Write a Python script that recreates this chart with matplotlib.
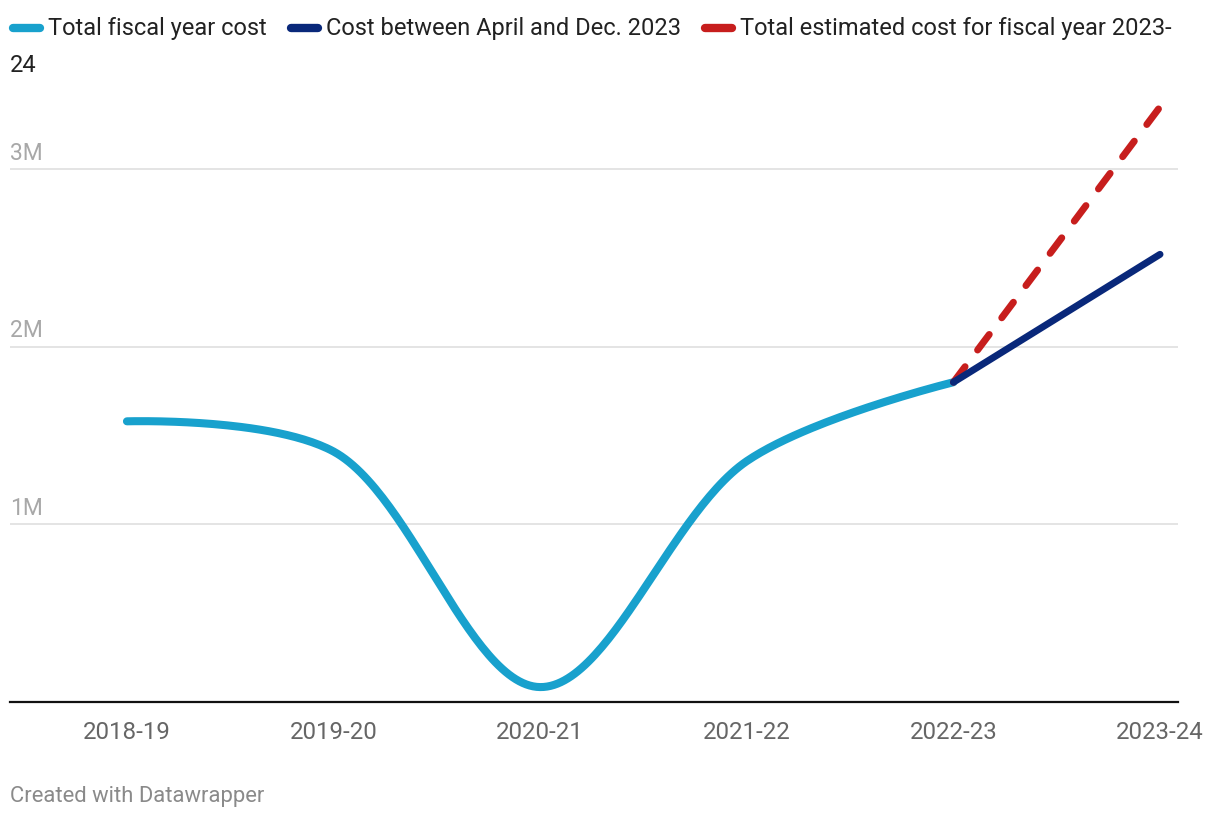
import matplotlib.pyplot as plt
import numpy as np
from matplotlib.lines import Line2D
from matplotlib.transforms import offset_copy

plt.rcParams['font.family'] = ['Roboto', 'DejaVu Sans']

# values in millions
years = ['2018-19', '2019-20', '2020-21', '2021-22', '2022-23', '2023-24']
total_cost = [1.58, 1.41, 0.084, 1.356, 1.80]      # 2018-19 .. 2022-23
partial_cost = [1.80, 2.52]                        # 2022-23 .. 2023-24, April-Dec.
estimated_cost = [1.80, 3.35]                      # 2022-23 .. 2023-24, estimate
y_ticks = [1, 2, 3]
y_tick_labels = ['1M', '2M', '3M']
legend_labels = ['Total fiscal year cost',
                 'Cost between April and Dec. 2023',
                 'Total estimated cost for fiscal year 2023-24']

CYAN = '#18a1cd'
NAVY = '#09287a'
RED = '#c71e1d'

W, H = 1220, 820


def catmull_rom(px, py, alpha=0.5, steps=60):
    # same as d3.curveCatmullRom, worked out in pixel space
    pts = np.column_stack([px, py])
    n = len(pts)
    out = [pts[0]]
    for i in range(n - 1):
        p0 = pts[i - 1] if i > 0 else pts[i]
        p1 = pts[i]
        p2 = pts[i + 1]
        p3 = pts[i + 2] if i + 2 < n else pts[i + 1]
        l01 = np.hypot(*(p1 - p0)) ** alpha
        l12 = np.hypot(*(p2 - p1)) ** alpha
        l23 = np.hypot(*(p3 - p2)) ** alpha
        c1 = p1.copy()
        if l01 > 1e-9:
            a = 2 * l01 ** 2 + 3 * l01 * l12 + l12 ** 2
            m = 3 * l01 * (l01 + l12)
            c1 = (p1 * a - p0 * l12 ** 2 + p2 * l01 ** 2) / m
        c2 = p2.copy()
        if l23 > 1e-9:
            b = 2 * l23 ** 2 + 3 * l23 * l12 + l12 ** 2
            m = 3 * l23 * (l23 + l12)
            c2 = (p2 * b + p1 * l23 ** 2 - p3 * l12 ** 2) / m
        t = np.linspace(0, 1, steps)[1:, None]
        seg = (1 - t) ** 3 * p1 + 3 * (1 - t) ** 2 * t * c1 + 3 * (1 - t) * t ** 2 * c2 + t ** 3 * p2
        out.extend(seg)
    return np.array(out)


fig = plt.figure(figsize=(W / 100, H / 100), dpi=100)
ax = fig.add_axes([10 / W, (H - 703) / H, (1178 - 10) / W, (703 - 99) / H])

x = np.arange(len(years))
ax.set_xlim(-0.566, 5.087)
ax.set_ylim(0, 3.4)

# gridlines + y labels
for v, lab in zip(y_ticks, y_tick_labels):
    ax.axhline(v, color='#e2e2e2', lw=1.3, zorder=0)
    ax.text(0, v + 0.03, lab, transform=ax.get_yaxis_transform(), ha='left', va='bottom',
            fontsize=16.5, color='#a8a8a8')

# smooth curve for the full fiscal years
disp = ax.transData.transform(np.column_stack([x[:len(total_cost)], total_cost]))
curve = catmull_rom(disp[:, 0], disp[:, 1])
curve = ax.transData.inverted().transform(curve)
ax.plot(curve[:, 0], curve[:, 1], color=CYAN, lw=5.8, solid_capstyle='round', zorder=3)

ax.plot(x[-2:], estimated_cost, color=RED, lw=5, linestyle=(0, (2.8, 3.0)),
        dash_capstyle='round', zorder=4)
ax.plot(x[-2:], partial_cost, color=NAVY, lw=5, solid_capstyle='round', zorder=5)

for s in ['top', 'right', 'left']:
    ax.spines[s].set_visible(False)
ax.spines['bottom'].set_color('#111111')
ax.spines['bottom'].set_linewidth(1.6)
ax.set_yticks([])
ax.set_xticks(x)
ax.set_xticklabels(years, fontsize=17.3, color='#666666')
ax.tick_params(axis='x', length=0, pad=13)
last = ax.get_xticklabels()[-1]
last.set_horizontalalignment('right')

fig.canvas.draw()
renderer = fig.canvas.get_renderer()
# last tick label ends at the right edge instead of centring
bb = last.get_window_extent(renderer)
last.set_transform(offset_copy(last.get_transform(), fig=fig, x=1204 - bb.x1, units='dots'))


# legend, laid out by hand like the original
def leg_text(xp, yp, s):
    return fig.text(xp / W, 1 - yp / H, s, fontsize=17, color='#222222', va='center', ha='left')


xp = 13
yrow = 29
for i, (lab, col) in enumerate(zip(legend_labels, [CYAN, NAVY, RED])):
    fig.add_artist(Line2D([xp / W, (xp + 27) / W], [1 - yrow / H, 1 - yrow / H],
                          transform=fig.transFigure, lw=6, color=col, solid_capstyle='round'))
    if i == len(legend_labels) - 1:
        cut = lab.rfind('-') + 1
        t = leg_text(xp + 35, yrow, lab[:cut])
        leg_text(10, 66, lab[cut:])
    else:
        t = leg_text(xp + 35, yrow, lab)
    xp = t.get_window_extent(renderer).x1 + 24

fig.text(10 / W, 1 - 797 / H, 'Created with Datawrapper', fontsize=15.8, color='#8a8a8a',
         va='center', ha='left')

fig.savefig('out.png', dpi=100)
